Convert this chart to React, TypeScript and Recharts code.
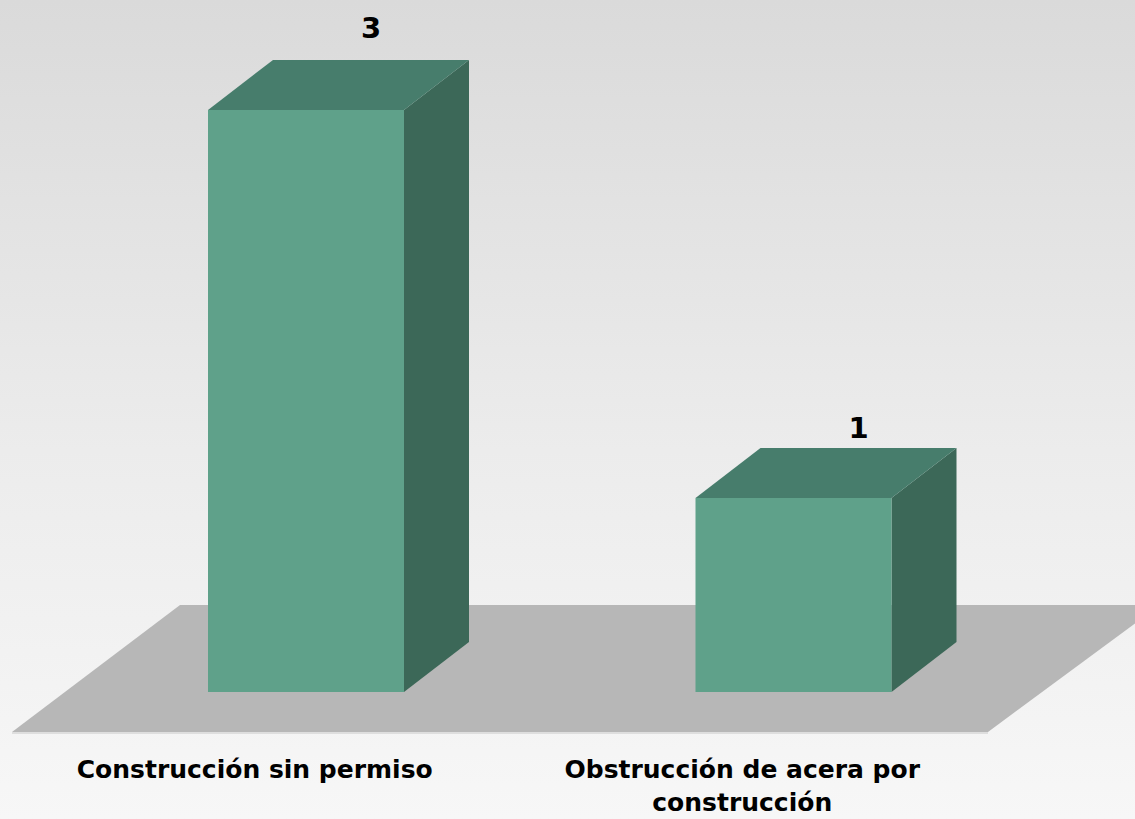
import React from 'react';
import { BarChart, Bar, XAxis, YAxis, LabelList } from 'recharts';

const categories = ['Construcción sin permiso', 'Obstrucción de acera por construcción'];
const counts = [3, 1];

const data = categories.map((name, i) => ({ name, value: counts[i] }));

const FRONT = '#5fa18a';
const TOP = '#477d6c';
const SIDE = '#3c6858';
const DX = 65;
const DY = 50;
const FONT = '"DejaVu Sans", Lato, sans-serif';

function Box3D(props: any) {
  const { x, y, width, height } = props;
  const top = `${x},${y} ${x + DX},${y - DY} ${x + width + DX},${y - DY} ${x + width},${y}`;
  const side = `${x + width},${y} ${x + width + DX},${y - DY} ${x + width + DX},${y + height - DY} ${x + width},${y + height}`;
  return (
    <g>
      <polygon points={side} fill={SIDE} />
      <polygon points={top} fill={TOP} />
      <rect x={x} y={y} width={width} height={height} fill={FRONT} />
    </g>
  );
}

function ValueLabel(props: any) {
  const { x, y, width, height, value } = props;
  // taller boxes get their label lifted a bit more, as in the source chart
  const lift = 4 + 18 * (height / 582);
  return (
    <text
      x={x + width / 2 + DX}
      y={y - DY - lift}
      textAnchor="middle"
      fontFamily={FONT}
      fontWeight={700}
      fontSize={29}
      fill="#000"
    >
      {value}
    </text>
  );
}

function wrap(label: string, max = 25) {
  const lines: string[] = [];
  let cur = '';
  label.split(' ').forEach(w => {
    const next = cur ? cur + ' ' + w : w;
    if (next.length > max && cur) {
      lines.push(cur);
      cur = w;
    } else {
      cur = next;
    }
  });
  if (cur) lines.push(cur);
  return lines;
}

function CategoryTick(props: any) {
  const { x, y, payload } = props;
  const lines = wrap(payload.value);
  return (
    <text
      x={x - 51}
      y={y + 78}
      textAnchor="middle"
      fontFamily={FONT}
      fontWeight={700}
      fontSize={25}
      fill="#000"
    >
      {lines.map((l, i) => (
        <tspan key={i} x={x - 51} dy={i === 0 ? 0 : 33}>
          {l}
        </tspan>
      ))}
    </text>
  );
}

export default function App() {
  return (
    <div
      style={{
        position: 'absolute',
        left: 0,
        top: 0,
        width: 1135,
        height: 819,
        overflow: 'hidden',
        background: 'linear-gradient(to bottom, #dadada 0%, #ececec 55%, #f7f7f7 100%)',
      }}
    >
      <svg width={1135} height={819} style={{ position: 'absolute', left: 0, top: 0 }}>
        <polygon points="180,605 1160,605 988,732 12,732" fill="#b7b7b7" />
        <line x1={12} y1={733} x2={988} y2={733} stroke="#dedede" strokeWidth={2} />
      </svg>
      <div style={{ position: 'absolute', left: 0, top: 0 }}>
        <BarChart
          width={1135}
          height={819}
          data={data}
          margin={{ top: 110, right: 98, left: 62, bottom: 0 }}
        >
          <XAxis
            dataKey="name"
            axisLine={false}
            tickLine={false}
            tick={<CategoryTick />}
            interval={0}
            height={127}
          />
          <YAxis hide domain={[0, 3]} />
          <Bar dataKey="value" barSize={196} shape={<Box3D />} isAnimationActive={false}>
            <LabelList dataKey="value" content={<ValueLabel />} />
          </Bar>
        </BarChart>
      </div>
    </div>
  );
}
